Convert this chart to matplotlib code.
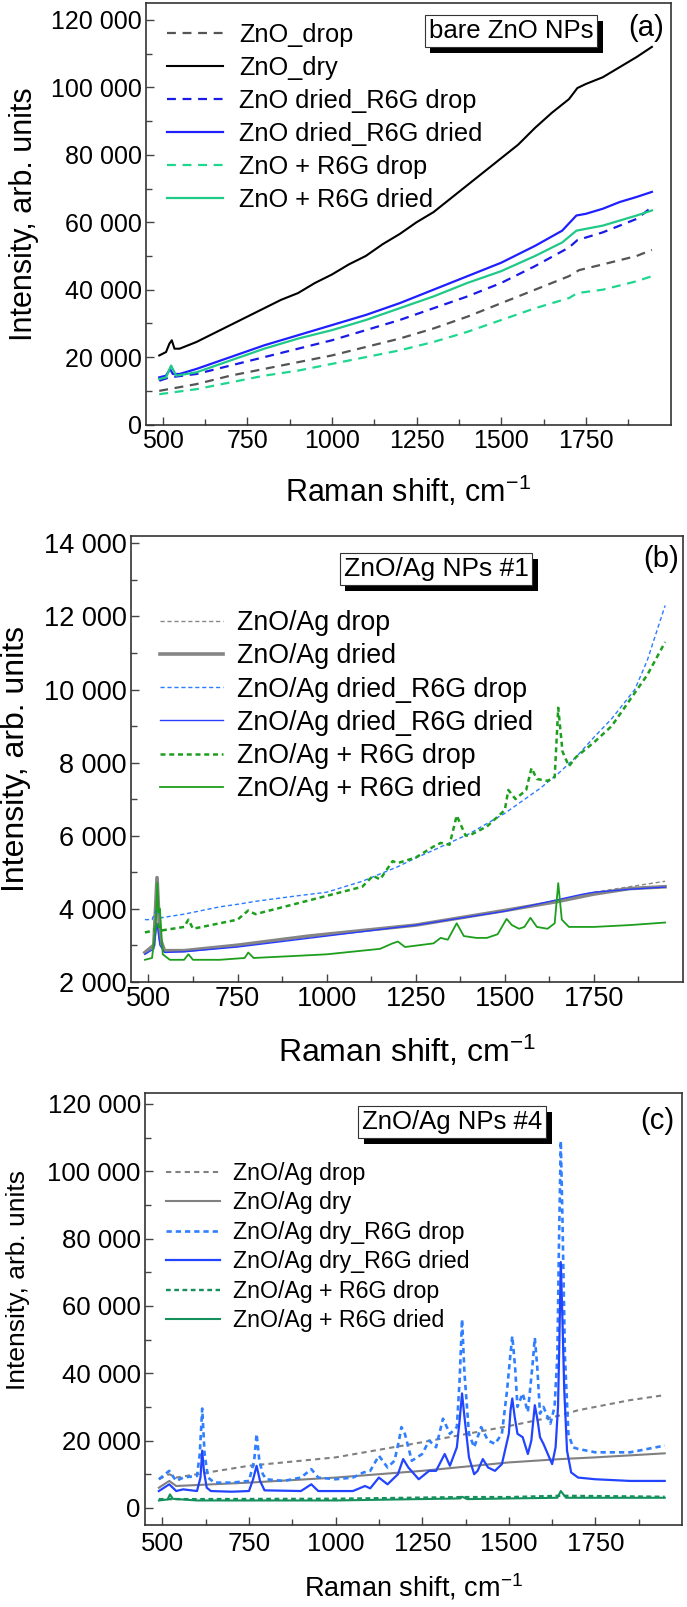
import matplotlib
matplotlib.use("Agg")
import matplotlib.pyplot as plt
import matplotlib.patheffects as pe
from matplotlib.ticker import MultipleLocator, FixedLocator, FuncFormatter

plt.rcParams['font.family'] = ['Liberation Sans', 'DejaVu Sans']
plt.rcParams['mathtext.default'] = 'regular'

# ---------------- panel (a): bare ZnO NPs ----------------
a_drop_x = [490, 600, 700, 800, 900, 1000, 1100, 1200, 1300, 1400, 1500, 1600, 1700, 1730, 1800, 1900, 1945]
a_drop_y = [10000, 12000, 14500, 16500, 18500, 20500, 23000, 25500, 28500, 32000, 36000, 40000, 44000, 45800, 47500, 50000, 51800]

a_dry_x = [490, 510, 520, 527, 535, 550, 600, 650, 700, 750, 800, 850, 900, 950, 1000, 1050, 1100, 1150, 1200,
           1250, 1300, 1350, 1400, 1450, 1500, 1550, 1600, 1650, 1700, 1725, 1750, 1800, 1850, 1900, 1945]
a_dry_y = [20500, 21500, 24000, 25000, 22500, 22500, 24500, 27000, 29500, 32000, 34500, 37000, 39000, 42000, 44500,
           47500, 50000, 53500, 56500, 60000, 63000, 67000, 71000, 75000, 79000, 83000, 88000, 92500, 96500, 99800,
           101000, 103000, 106000, 109000, 112000]

a_dR6G_drop_x = [490, 520, 600, 700, 800, 900, 1000, 1100, 1200, 1300, 1400, 1500, 1600, 1700, 1725, 1800, 1900, 1945]
a_dR6G_drop_y = [13000, 14000, 15000, 17500, 20000, 22500, 25000, 28000, 31000, 34500, 38000, 42000, 47000, 52500,
                 54700, 57000, 61000, 64500]

a_dR6G_dried_x = [490, 510, 522, 530, 550, 600, 700, 800, 900, 1000, 1100, 1200, 1300, 1400, 1500, 1600, 1680,
                  1722, 1750, 1800, 1850, 1900, 1945]
a_dR6G_dried_y = [14000, 14500, 16500, 15000, 15000, 16500, 20000, 23500, 26500, 29500, 32500, 36000, 40000,
                  44000, 48000, 53000, 57500, 62000, 62500, 64000, 66000, 67500, 69000]

a_R6G_drop_x = [490, 600, 700, 800, 900, 1000, 1100, 1200, 1300, 1400, 1500, 1600, 1700, 1725, 1800, 1900, 1945]
a_R6G_drop_y = [9000, 10500, 12500, 14500, 16000, 18000, 20000, 22000, 24500, 27500, 31000, 34500, 37500, 39000,
                40000, 42500, 44000]

a_R6G_dried_x = [490, 510, 525, 540, 600, 700, 800, 900, 1000, 1100, 1200, 1300, 1400, 1500, 1600, 1680, 1722,
                 1800, 1900, 1945]
a_R6G_dried_y = [13500, 14000, 17500, 14500, 15500, 19000, 22500, 25500, 28000, 31000, 34500, 38000, 42000,
                 45500, 50000, 54000, 57500, 59000, 62000, 63500]

# ---------------- panel (b): ZnO/Ag NPs #1 ----------------
b_drop_x = [490, 515, 524, 532, 545, 600, 750, 950, 1000, 1250, 1500, 1650, 1750, 1850, 1950]
b_drop_y = [2800, 3000, 4800, 3200, 2850, 2850, 3000, 3250, 3300, 3550, 3950, 4200, 4450, 4600, 4750]

b_dried_x = [490, 515, 524, 532, 545, 600, 750, 950, 1000, 1250, 1500, 1650, 1750, 1850, 1950]
b_dried_y = [2800, 3000, 4850, 3200, 2850, 2850, 3000, 3250, 3300, 3550, 3950, 4200, 4400, 4550, 4600]

b_dR6G_drop_x = [490, 510, 522, 535, 600, 700, 750, 800, 900, 1000, 1100, 1200, 1250, 1300, 1400, 1500, 1600,
                 1650, 1700, 1750, 1800, 1865, 1900, 1950]
b_dR6G_drop_y = [3700, 3700, 4000, 3750, 3850, 4050, 4120, 4200, 4330, 4450, 4750, 5150, 5390, 5600, 6050, 6610,
                 7300, 7700, 8150, 8690, 9200, 10000, 10800, 12300]

b_dR6G_dried_x = [490, 515, 524, 532, 545, 600, 750, 1000, 1250, 1500, 1650, 1720, 1750, 1850, 1950]
b_dR6G_dried_y = [2750, 2900, 3600, 3000, 2800, 2820, 2950, 3250, 3550, 3930, 4250, 4400, 4450, 4530, 4590]

b_R6G_drop_x = [490, 515, 525, 535, 600, 612, 625, 750, 780, 800, 900, 1000, 1100, 1130, 1150, 1185, 1200, 1250,
                1300, 1320, 1345, 1365, 1390, 1400, 1450, 1500, 1510, 1530, 1560, 1575, 1590, 1620, 1640, 1650,
                1662, 1680, 1700, 1750, 1800, 1850, 1900, 1950]
b_R6G_drop_y = [3350, 3400, 3600, 3400, 3500, 3700, 3450, 3700, 3950, 3850, 4100, 4350, 4600, 4900, 4800, 5300,
                5250, 5400, 5700, 5800, 5750, 6550, 6000, 6000, 6250, 6700, 7250, 7000, 7250, 7850, 7550, 7500,
                7600, 9500, 8300, 7900, 8150, 8550, 9000, 9700, 10400, 11300]

b_R6G_dried_x = [490, 510, 520, 525, 528, 532, 540, 560, 600, 612, 625, 700, 770, 780, 795, 900, 1000, 1100,
                 1150, 1185, 1200, 1220, 1300, 1320, 1340, 1365, 1385, 1420, 1450, 1480, 1505, 1520, 1540, 1555,
                 1572, 1590, 1620, 1640, 1650, 1660, 1680, 1750, 1850, 1950]
b_R6G_dried_y = [2600, 2650, 3500, 4700, 3900, 4000, 2750, 2600, 2600, 2750, 2600, 2600, 2650, 2800, 2650, 2700,
                 2750, 2850, 2900, 3050, 3100, 2950, 3050, 3200, 3150, 3600, 3250, 3200, 3200, 3300, 3720, 3550,
                 3450, 3500, 3750, 3500, 3450, 3600, 4700, 3700, 3500, 3500, 3550, 3620]

# ---------------- panel (c): ZnO/Ag NPs #4 ----------------
c_drop_x = [490, 520, 540, 600, 750, 1000, 1250, 1500, 1650, 1700, 1750, 1850, 1950]
c_drop_y = [8500, 10000, 9000, 10000, 12500, 15000, 19500, 24300, 27500, 29000, 30000, 32000, 33500]

c_dry_x = [490, 520, 540, 750, 1000, 1250, 1500, 1650, 1750, 1950]
c_dry_y = [6000, 8000, 6500, 7500, 9000, 11000, 13500, 14500, 15000, 16200]

c_dR6G_drop_x = [490, 520, 540, 560, 600, 608, 615, 622, 632, 650, 700, 750, 765, 772, 780, 790, 800, 850, 900,
                 930, 950, 1000, 1050, 1080, 1100, 1125, 1150, 1170, 1183, 1190, 1200, 1220, 1250, 1270, 1290, 1310,
                 1330, 1350, 1358, 1365, 1372, 1385, 1400, 1420, 1440, 1460, 1480, 1495, 1505, 1510, 1518, 1525,
                 1540, 1555, 1568, 1575, 1582, 1590, 1600, 1620, 1632, 1640, 1645, 1650, 1655, 1662, 1672, 1685,
                 1700, 1750, 1850, 1950]
c_dR6G_drop_y = [8500, 11000, 8000, 9000, 9500, 16000, 29500, 16000, 9000, 7500, 7500, 8000, 14000, 22000, 14000,
                 10000, 8500, 8000, 9000, 11500, 9000, 8500, 9000, 10500, 11000, 15500, 12000, 14000, 20000, 24000,
                 22000, 14000, 16000, 20000, 18000, 26500, 22000, 24000, 38000, 56000, 40000, 22000, 18000, 24000,
                 20000, 19000, 22000, 35000, 46000, 51000, 42000, 30000, 34000, 28500, 42000, 50500, 42000, 28000,
                 30000, 25000, 30000, 45000, 80000, 109000, 85000, 45000, 22000, 18000, 17500, 16500, 16500, 18500]

c_dR6G_dried_x = [490, 520, 540, 560, 600, 610, 615, 620, 628, 640, 700, 750, 762, 772, 782, 795, 900, 930, 950,
                  1050, 1085, 1100, 1125, 1150, 1180, 1195, 1210, 1240, 1270, 1290, 1315, 1330, 1350, 1358, 1365,
                  1372, 1385, 1400, 1410, 1425, 1440, 1460, 1480, 1500, 1505, 1510, 1517, 1525, 1540, 1555, 1565,
                  1575, 1583, 1590, 1600, 1625, 1635, 1642, 1646, 1650, 1655, 1660, 1668, 1680, 1700, 1750, 1850,
                  1950]
c_dR6G_dried_y = [5000, 7000, 5000, 5500, 5000, 9000, 17000, 11000, 6000, 5000, 4800, 5000, 8500, 12500, 8000,
                  5200, 5000, 7000, 5000, 5000, 6500, 5800, 9000, 7000, 10000, 14500, 12000, 8500, 11000, 11000,
                  16000, 12500, 18000, 26000, 34000, 27000, 15000, 10000, 11000, 14500, 12000, 11000, 13000, 22000,
                  29000, 32500, 27000, 22000, 21000, 16000, 20000, 30500, 26000, 21000, 19000, 13000, 18000, 30000,
                  50000, 73000, 55000, 35000, 17000, 10500, 9000, 8500, 8000, 8000]

c_R6G_drop_x = [490, 600, 1000, 1365, 1500, 1650, 1950]
c_R6G_drop_y = [2600, 2600, 2700, 3200, 3200, 3600, 3300]

c_R6G_dried_x = [490, 515, 522, 530, 600, 1000, 1360, 1365, 1380, 1500, 1640, 1650, 1665, 1950]
c_R6G_dried_y = [2200, 2500, 4000, 2700, 2200, 2200, 2800, 3300, 2600, 2800, 3000, 5000, 3000, 3000]

x_major = [500, 750, 1000, 1250, 1500, 1750]
x_minor = [625, 875, 1125, 1375, 1625, 1875]


def thousands(v, pos):
    return f"{v:,.0f}".replace(",", " ")


def style_axes(ax, ylim, ymajor, yminor, tick_fs, xlabel_fs, ylabel_fs, xpad, ylab_x, ylab_y=0.5, tpad=3):
    ax.set_xlim(450, 2000)
    ax.set_ylim(*ylim)
    ax.xaxis.set_major_locator(FixedLocator(x_major))
    ax.xaxis.set_minor_locator(FixedLocator(x_minor))
    ax.yaxis.set_major_locator(MultipleLocator(ymajor))
    ax.yaxis.set_minor_locator(MultipleLocator(yminor))
    ax.yaxis.set_major_formatter(FuncFormatter(thousands))
    ax.tick_params(which='both', direction='in', labelsize=tick_fs, color='#444444')
    ax.tick_params(axis='x', pad=tpad)
    ax.tick_params(axis='y', pad=3)
    ax.tick_params(which='major', length=6, width=1)
    ax.tick_params(which='minor', length=4, width=1)
    for s in ax.spines.values():
        s.set_color('#333333')
        s.set_linewidth(1.2)
    ax.set_xlabel('Raman shift, cm$^{-1}$', fontsize=xlabel_fs, labelpad=xpad)
    ax.set_ylabel('Intensity, arb. units', fontsize=ylabel_fs)
    ax.yaxis.set_label_coords(ylab_x, ylab_y)


def shadow_box(ax, x, y, txt, fs):
    t = ax.text(x, y, txt, transform=ax.transAxes, fontsize=fs, ha='center', va='center', color='black',
                bbox=dict(boxstyle='square,pad=0.15', facecolor='white', edgecolor='#333333', linewidth=0.8))
    t.get_bbox_patch().set_path_effects([
        pe.SimplePatchShadow(offset=(4, -4), shadow_rgbFace='black', alpha=1.0), pe.Normal()])


fig = plt.figure(figsize=(6.87, 16.07), dpi=100)

# ---- (a)
ax1 = fig.add_axes([0.2121, 0.7358, 0.7639, 0.2623])
ax1.plot(a_drop_x, a_drop_y, color='#555555', lw=1.6, ls=(0, (4, 3)), label='ZnO_drop')
ax1.plot(a_dry_x, a_dry_y, color='black', lw=1.5, label='ZnO_dry')
ax1.plot(a_dR6G_drop_x, a_dR6G_drop_y, color='#1a1ae6', lw=1.6, ls=(0, (4, 3)), label='ZnO dried_R6G drop')
ax1.plot(a_dR6G_dried_x, a_dR6G_dried_y, color='#1f1fff', lw=1.6, label='ZnO dried_R6G dried')
ax1.plot(a_R6G_drop_x, a_R6G_drop_y, color='#1fd68f', lw=1.6, ls=(0, (4, 3)), label='ZnO + R6G drop')
ax1.plot(a_R6G_dried_x, a_R6G_dried_y, color='#1fc987', lw=1.6, label='ZnO + R6G dried')
style_axes(ax1, (0, 125000), 20000, 10000, 18, 22, 22, xpad=15, ylab_x=-0.203)
ax1.legend(loc='upper left', bbox_to_anchor=(0.041, 0.952), frameon=False, fontsize=18.3,
           handlelength=2.2, handletextpad=0.62, labelspacing=0.35, borderpad=0, borderaxespad=0)
shadow_box(ax1, 0.696, 0.933, 'bare ZnO NPs', 18.5)
ax1.text(0.953, 0.9416, '(a)', transform=ax1.transAxes, fontsize=21, ha='center', va='center')

# ---- (b)
ax2 = fig.add_axes([0.1902, 0.3891, 0.8039, 0.2773])
ax2.plot(b_drop_x, b_drop_y, color='#888888', lw=1.0, ls=(0, (3, 2)), label='ZnO/Ag drop')
ax2.plot(b_dried_x, b_dried_y, color='#858585', lw=2.6, label='ZnO/Ag dried')
ax2.plot(b_dR6G_drop_x, b_dR6G_drop_y, color='#2b7bff', lw=1.0, ls=(0, (3, 2)), label='ZnO/Ag dried_R6G drop')
ax2.plot(b_dR6G_dried_x, b_dR6G_dried_y, color='#2a3cff', lw=1.0, label='ZnO/Ag dried_R6G dried')
ax2.plot(b_R6G_drop_x, b_R6G_drop_y, color='#1d9e1d', lw=1.8, ls=(0, (2, 1.5)), label='ZnO/Ag + R6G drop')
ax2.plot(b_R6G_dried_x, b_R6G_dried_y, color='#1d9e1d', lw=1.3, label='ZnO/Ag + R6G dried')
style_axes(ax2, (2000, 14200), 2000, 1000, 19.5, 23, 23, xpad=16, ylab_x=-0.1805)
ax2.legend(loc='upper left', bbox_to_anchor=(0.053, 0.834), frameon=False, fontsize=19.3,
           handlelength=2.35, handletextpad=0.52, labelspacing=0.27, borderpad=0, borderaxespad=0)
shadow_box(ax2, 0.553, 0.926, 'ZnO/Ag NPs #1', 19)
ax2.text(0.961, 0.948, '(b)', transform=ax2.transAxes, fontsize=21, ha='center', va='center')

# ---- (c)
ax3 = fig.add_axes([0.2111, 0.0510, 0.7817, 0.2690])
ax3.plot(c_drop_x, c_drop_y, color='#808080', lw=1.5, ls=(0, (2.5, 2)), label='ZnO/Ag drop')
ax3.plot(c_dry_x, c_dry_y, color='#808080', lw=1.5, label='ZnO/Ag dry')
ax3.plot(c_dR6G_drop_x, c_dR6G_drop_y, color='#2f7fff', lw=1.9, ls=(0, (2, 1.5)), label='ZnO/Ag dry_R6G drop')
ax3.plot(c_dR6G_dried_x, c_dR6G_dried_y, color='#2244ff', lw=1.6, label='ZnO/Ag dry_R6G dried')
ax3.plot(c_R6G_drop_x, c_R6G_drop_y, color='#15905c', lw=1.7, ls=(0, (2, 1.5)), label='ZnO/Ag + R6G drop')
ax3.plot(c_R6G_dried_x, c_R6G_dried_y, color='#15905c', lw=1.5, label='ZnO/Ag + R6G dried')
style_axes(ax3, (-5100, 123300), 20000, 10000, 18.5, 19.5, 19, xpad=11, ylab_x=-0.214, ylab_y=0.567, tpad=5)
ax3.legend(loc='upper left', bbox_to_anchor=(0.0385, 0.840), frameon=False, fontsize=16.7,
           handlelength=2.34, handletextpad=0.56, labelspacing=0.28, borderpad=0, borderaxespad=0)
shadow_box(ax3, 0.572, 0.932, 'ZnO/Ag NPs #4', 18.5)
ax3.text(0.953, 0.934, '(c)', transform=ax3.transAxes, fontsize=21, ha='center', va='center')

fig.savefig('out.png', dpi=100)
